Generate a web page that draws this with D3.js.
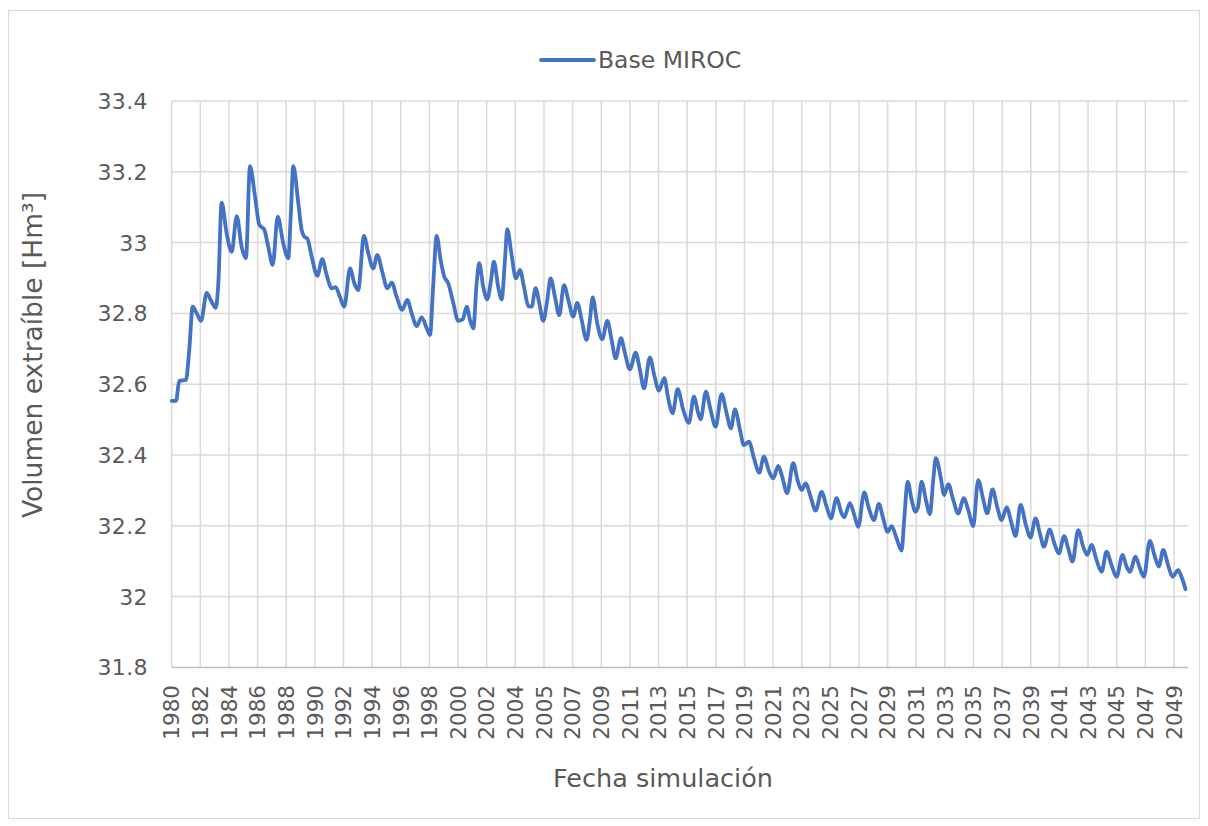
<!DOCTYPE html>
<html>
<head>
<meta charset="utf-8">
<script src="https://cdn.jsdelivr.net/npm/d3@7"></script>
<style>
  html, body { margin: 0; padding: 0; background: #ffffff; }
  svg { display: block; }
  text { font-family: "DejaVu Sans", Verdana, sans-serif; fill: #595959; }
</style>
</head>
<body>
<svg id="chart" width="1208" height="826"></svg>
<script>
// Simulated extractable volume (Hm³), sampled at decimal-year dates
const seriesName = "Base MIROC";
const years = [
  1980.00, 1980.30, 1980.53, 1980.99, 1981.22, 1981.46, 1981.74, 1982.04, 1982.43, 1982.71,
  1983.06, 1983.24, 1983.47, 1983.82, 1984.17, 1984.52, 1984.86, 1985.16, 1985.44, 1985.79,
  1986.09, 1986.43, 1986.71, 1987.02, 1987.37, 1987.75, 1988.10, 1988.27, 1988.45, 1988.80,
  1989.03, 1989.26, 1989.42, 1989.73, 1990.12, 1990.46, 1990.77, 1991.12, 1991.39, 1991.69,
  1991.99, 1992.39, 1992.69, 1992.96, 1993.36, 1993.66, 1994.01, 1994.28, 1994.66, 1994.98,
  1995.29, 1995.63, 1996.02, 1996.37, 1996.68, 1997.02, 1997.37, 1997.72, 1997.95, 1998.18,
  1998.41, 1998.69, 1998.92, 1999.22, 1999.57, 1999.91, 2000.22, 2000.50, 2000.73, 2000.96,
  2001.19, 2001.37, 2001.65, 2001.93, 2002.19, 2002.39, 2002.69, 2002.93, 2003.16, 2003.32,
  2003.62, 2003.92, 2004.20, 2004.48, 2004.78, 2005.01, 2005.29, 2005.54, 2005.82, 2006.10,
  2006.33, 2006.63, 2006.93, 2007.26, 2007.56, 2007.90, 2008.18, 2008.49, 2008.83, 2009.06,
  2009.25, 2009.57, 2009.92, 2010.27, 2010.57, 2010.85, 2011.22, 2011.50, 2011.84, 2012.24,
  2012.54, 2012.82, 2013.23, 2013.53, 2013.86, 2014.23, 2014.50, 2014.81, 2015.16, 2015.55,
  2015.94, 2016.29, 2016.59, 2016.76, 2017.12, 2017.45, 2017.80, 2018.21, 2018.56, 2018.86,
  2019.14, 2019.49, 2019.76, 2020.11, 2020.46, 2020.83, 2021.15, 2021.52, 2021.80, 2022.15,
  2022.42, 2022.77, 2023.19, 2023.49, 2023.77, 2024.05, 2024.40, 2024.75, 2025.16, 2025.51,
  2025.81, 2026.20, 2026.55, 2026.73, 2027.13, 2027.43, 2027.71, 2028.12, 2028.45, 2028.80,
  2029.14, 2029.44, 2029.75, 2030.03, 2030.37, 2030.72, 2030.90, 2031.14, 2031.42, 2031.69,
  2031.87, 2032.11, 2032.41, 2032.69, 2032.92, 2033.10, 2033.43, 2033.68, 2033.96, 2034.31,
  2034.65, 2035.05, 2035.35, 2035.70, 2036.04, 2036.39, 2036.67, 2037.04, 2037.36, 2037.67,
  2038.02, 2038.36, 2038.64, 2038.99, 2039.36, 2039.68, 2040.03, 2040.33, 2040.61, 2041.02,
  2041.30, 2041.65, 2042.02, 2042.30, 2042.60, 2042.99, 2043.34, 2043.62, 2043.92, 2044.27,
  2044.62, 2044.96, 2045.31, 2045.66, 2046.08, 2046.35, 2046.58, 2046.98, 2047.28, 2047.56,
  2047.97, 2048.32, 2048.60, 2048.90, 2049.24, 2049.55, 2049.94, 2050.17, 2050.45
];
const volumes = [
  32.553, 32.553, 32.610, 32.612, 32.697, 32.819, 32.800, 32.779, 32.858, 32.838,
  32.816, 32.885, 33.113, 33.026, 32.974, 33.075, 32.988, 32.956, 33.216, 33.130,
  33.050, 33.037, 32.988, 32.937, 33.073, 32.998, 32.956, 33.073, 33.216, 33.111,
  33.036, 33.015, 33.012, 32.960, 32.906, 32.953, 32.908, 32.871, 32.874, 32.847,
  32.819, 32.927, 32.885, 32.866, 33.019, 32.970, 32.927, 32.965, 32.913, 32.871,
  32.887, 32.847, 32.810, 32.838, 32.800, 32.764, 32.789, 32.758, 32.739, 32.885,
  33.019, 32.951, 32.906, 32.885, 32.829, 32.779, 32.783, 32.819, 32.781, 32.758,
  32.885, 32.942, 32.875, 32.840, 32.894, 32.946, 32.875, 32.840, 32.951, 33.038,
  32.965, 32.899, 32.923, 32.875, 32.821, 32.819, 32.871, 32.829, 32.779, 32.838,
  32.899, 32.847, 32.795, 32.880, 32.838, 32.791, 32.830, 32.781, 32.725, 32.781,
  32.845, 32.772, 32.727, 32.779, 32.725, 32.673, 32.730, 32.687, 32.642, 32.689,
  32.640, 32.588, 32.676, 32.626, 32.582, 32.617, 32.560, 32.518, 32.586, 32.527,
  32.491, 32.565, 32.518, 32.501, 32.579, 32.527, 32.480, 32.572, 32.518, 32.475,
  32.529, 32.471, 32.428, 32.438, 32.391, 32.350, 32.395, 32.353, 32.334, 32.369,
  32.339, 32.292, 32.377, 32.329, 32.301, 32.320, 32.282, 32.243, 32.296, 32.254,
  32.221, 32.278, 32.235, 32.224, 32.264, 32.231, 32.197, 32.294, 32.249, 32.216,
  32.262, 32.221, 32.183, 32.199, 32.165, 32.130, 32.216, 32.325, 32.273, 32.240,
  32.254, 32.325, 32.273, 32.233, 32.329, 32.391, 32.339, 32.287, 32.318, 32.273,
  32.235, 32.278, 32.245, 32.199, 32.329, 32.275, 32.235, 32.303, 32.254, 32.216,
  32.252, 32.207, 32.171, 32.259, 32.202, 32.167, 32.221, 32.179, 32.141, 32.190,
  32.155, 32.122, 32.171, 32.136, 32.099, 32.188, 32.141, 32.118, 32.146, 32.103,
  32.070, 32.127, 32.089, 32.056, 32.118, 32.085, 32.070, 32.113, 32.080, 32.056,
  32.157, 32.113, 32.085, 32.132, 32.089, 32.056, 32.075, 32.056, 32.021
];

// Category-axis labels (one every ~2 years)
const xTickLabels = [
  "1980", "1982", "1984", "1986", "1988", "1990", "1992", "1994", "1996", "1998",
  "2000", "2002", "2004", "2005", "2007", "2009", "2011", "2013", "2015", "2017",
  "2019", "2021", "2023", "2025", "2027", "2029", "2031", "2033", "2035", "2037",
  "2039", "2041", "2043", "2045", "2047", "2049"
];
const yTicks = [31.8, 32, 32.2, 32.4, 32.6, 32.8, 33, 33.2, 33.4];

const xTitle = "Fecha simulación";
const yTitle = "Volumen extraíble [Hm³]";

// ---- layout ----
const plot = { left: 171.7, right: 1188.3, top: 101, bottom: 667.4 };
const tickStep = 1.99;               // years between labelled gridlines
const xStart = 1980;
const xEnd = xStart + (xTickLabels.length - 0.5) * tickStep;

const svg = d3.select("#chart");

// outer chart frame
svg.append("rect")
  .attr("x", 8.5).attr("y", 10.5)
  .attr("width", 1191).attr("height", 808)
  .attr("fill", "#ffffff")
  .attr("stroke", "#d9d9d9").attr("stroke-width", 1);

const x = d3.scaleLinear().domain([xStart, xEnd]).range([plot.left, plot.right]);
const y = d3.scaleLinear().domain([31.8, 33.4]).range([plot.bottom, plot.top]);

const xTickValues = xTickLabels.map((_, i) => xStart + i * tickStep);

// horizontal gridlines
svg.append("g")
  .selectAll("line")
  .data(yTicks.filter(v => v > 31.8))
  .join("line")
  .attr("x1", plot.left).attr("x2", plot.right)
  .attr("y1", d => y(d)).attr("y2", d => y(d))
  .attr("stroke", "#d9d9d9").attr("stroke-width", 1.5);

// vertical gridlines
svg.append("g")
  .selectAll("line")
  .data(xTickValues)
  .join("line")
  .attr("x1", d => x(d)).attr("x2", d => x(d))
  .attr("y1", plot.top).attr("y2", plot.bottom)
  .attr("stroke", "#d9d9d9").attr("stroke-width", 1.5);

// bottom axis line
svg.append("line")
  .attr("x1", plot.left).attr("x2", plot.right)
  .attr("y1", plot.bottom).attr("y2", plot.bottom)
  .attr("stroke", "#bfbfbf").attr("stroke-width", 1.5);

// y tick labels
svg.append("g")
  .selectAll("text")
  .data(yTicks)
  .join("text")
  .attr("x", 148)
  .attr("y", d => y(d))
  .attr("dy", "0.36em")
  .attr("text-anchor", "end")
  .attr("font-size", 22)
  .attr("letter-spacing", 0.4)
  .text(d => d3.format("~g")(d));

// x tick labels (rotated)
svg.append("g")
  .selectAll("text")
  .data(xTickValues)
  .join("text")
  .attr("transform", d => `translate(${x(d)},685) rotate(-90)`)
  .attr("dy", "0.36em")
  .attr("text-anchor", "end")
  .attr("font-size", 21.5)
  .text((d, i) => xTickLabels[i]);

// axis titles
svg.append("text")
  .attr("x", 663).attr("y", 787)
  .attr("text-anchor", "middle")
  .attr("font-size", 25.5)
  .text(xTitle);

svg.append("text")
  .attr("transform", "translate(42,355) rotate(-90)")
  .attr("text-anchor", "middle")
  .attr("font-size", 26.5)
  .text(yTitle);

// series line
const data = years.map((t, i) => ({ t, v: volumes[i] }));
const line = d3.line()
  .x(d => x(d.t))
  .y(d => y(d.v))
  .curve(d3.curveMonotoneX);

svg.append("path")
  .datum(data)
  .attr("d", line)
  .attr("fill", "none")
  .attr("stroke", "#4472c4")
  .attr("stroke-width", 3.8)
  .attr("stroke-linejoin", "round")
  .attr("stroke-linecap", "round");

// legend
const legend = svg.append("g").attr("transform", "translate(541,60)");
legend.append("line")
  .attr("x1", 0).attr("x2", 53)
  .attr("y1", 0).attr("y2", 0)
  .attr("stroke", "#4472c4").attr("stroke-width", 3.8)
  .attr("stroke-linecap", "round");
legend.append("text")
  .attr("x", 57).attr("y", 0)
  .attr("dy", "0.36em")
  .attr("font-size", 23.5)
  .text(seriesName);
</script>
</body>
</html>
